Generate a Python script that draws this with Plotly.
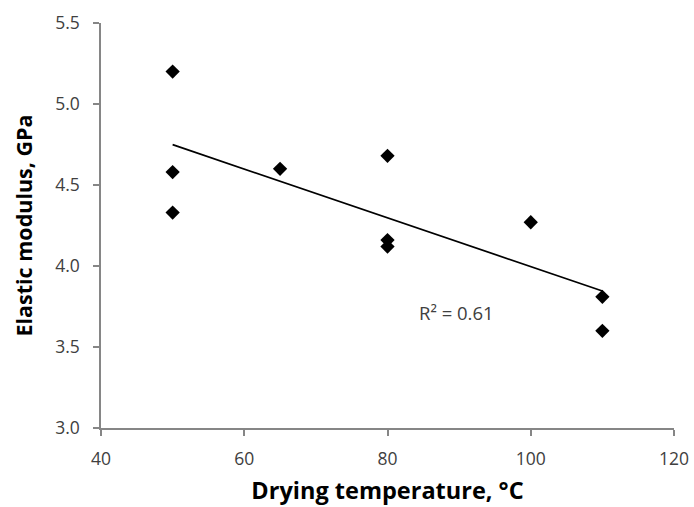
import numpy as np
import plotly.graph_objects as go

temperature = [50, 50, 50, 65, 80, 80, 80, 100, 110, 110]
modulus = [5.20, 4.58, 4.33, 4.60, 4.68, 4.16, 4.12, 4.27, 3.81, 3.60]
x_ticks = [40, 60, 80, 100, 120]
y_ticks = [3.0, 3.5, 4.0, 4.5, 5.0, 5.5]

x = np.array(temperature, dtype=float)
y = np.array(modulus, dtype=float)
slope, intercept = np.polyfit(x, y, 1)
pred = slope * x + intercept
r2 = 1 - np.sum((y - pred) ** 2) / np.sum((y - y.mean()) ** 2)
xl = np.array([x.min(), x.max()])

FONT = "Open Sans"
AX = "#868686"

fig = go.Figure()
fig.add_trace(go.Scatter(x=xl, y=slope * xl + intercept, mode="lines",
                         line=dict(color="black", width=1.7), hoverinfo="skip",
                         showlegend=False))
fig.add_trace(go.Scatter(x=temperature, y=modulus, mode="markers",
                         marker=dict(symbol="diamond", size=11, color="black"),
                         showlegend=False))
fig.add_annotation(x=89.7, y=3.716, text=f"R² = {r2:.2f}", showarrow=False,
                   font=dict(family=FONT, size=18.5, color="#404040"))

axis_common = dict(showgrid=False, zeroline=False, showline=True, linecolor=AX,
                   linewidth=1.5, ticks="outside", tickcolor=AX, ticklen=6,
                   tickwidth=1.5, automargin=False,
                   tickfont=dict(family=FONT, size=17.5, color="#404040"))
fig.update_xaxes(range=[40, 120], tickvals=x_ticks, ticktext=[str(v) for v in x_ticks],
                 ticklabelstandoff=8,
                 title=dict(text="<b>Drying temperature, °C</b>", standoff=14,
                            font=dict(family=FONT, size=23.5, color="black")),
                 **axis_common)
fig.update_yaxes(range=[3.0, 5.5], tickvals=y_ticks, ticktext=[f"{v:.1f}" for v in y_ticks],
                 ticklabelstandoff=10,
                 title=dict(text="<b>Elastic modulus, GPa</b>", standoff=17,
                            font=dict(family=FONT, size=21.5, color="black")),
                 **axis_common)
fig.update_layout(width=694, height=507, margin=dict(l=101, r=20, t=23, b=79),
                  plot_bgcolor="white", paper_bgcolor="white")
fig.write_html("out.html", config={"displayModeBar": False},
               post_script="document.body.style.margin='0';document.body.style.padding='0';")
